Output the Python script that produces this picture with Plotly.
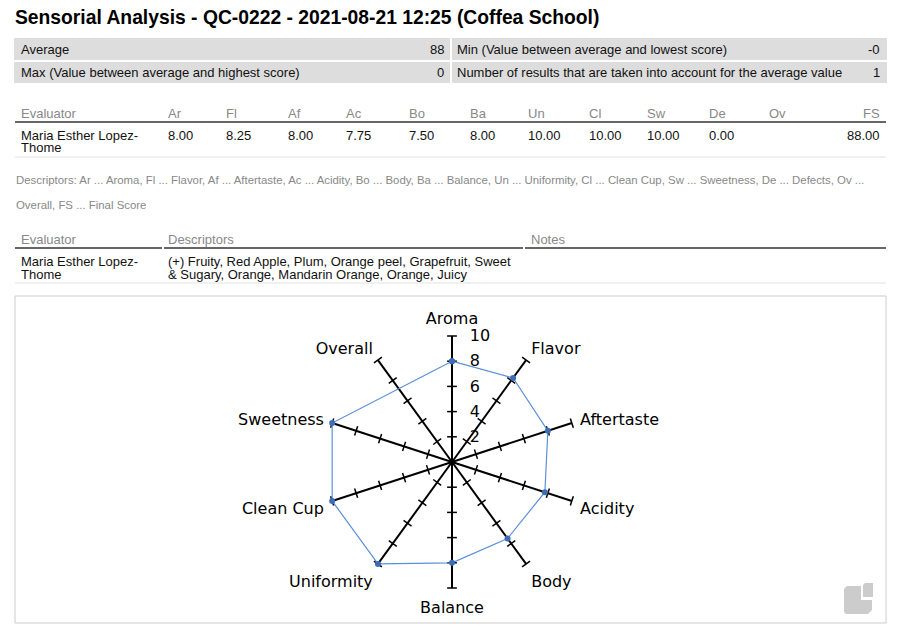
import plotly.graph_objects as go

W, H = 900, 628

# ---------------- data ----------------
title = "Sensorial Analysis - QC-0222 - 2021-08-21 12:25 (Coffea School)"
summary_left = [("Average", "88"), ("Max (Value between average and highest score)", "0")]
summary_right = [("Min (Value between average and lowest score)", "-0"),
                 ("Number of results that are taken into account for the average value", "1")]
col_codes = ["Ar", "Fl", "Af", "Ac", "Bo", "Ba", "Un", "Cl", "Sw", "De", "Ov"]
evaluator = ["Maria Esther Lopez-", "Thome"]
scores_txt = ["8.00", "8.25", "8.00", "7.75", "7.50", "8.00", "10.00", "10.00", "10.00", "0.00", ""]
final_score = "88.00"
legend_lines = ["Descriptors: Ar ... Aroma, Fl ... Flavor, Af ... Aftertaste, Ac ... Acidity, Bo ... Body, "
                "Ba ... Balance, Un ... Uniformity, Cl ... Clean Cup, Sw ... Sweetness, De ... Defects, Ov ...",
                "Overall, FS ... Final Score"]
descriptor_lines = ["(+) Fruity, Red Apple, Plum, Orange peel, Grapefruit, Sweet",
                    "& Sugary, Orange, Mandarin Orange, Orange, Juicy"]

categories = ["Aroma", "Flavor", "Aftertaste", "Acidity", "Body",
              "Balance", "Uniformity", "Clean Cup", "Sweetness", "Overall"]
values = [8.00, 8.25, 8.00, 7.75, 7.50, 8.00, 10.00, 10.00, 10.00, None]
radial_ticks = [2, 4, 6, 8, 10]

# ---------------- helpers ----------------
def X(x):
    return x / W

def Y(y):
    return 1 - y / H

TF = "Liberation Sans, Arial, sans-serif"
RF = "DejaVu Sans, sans-serif"

annotations = []
shapes = []

def txt(x, y, s, size=13, color="#111111", anchor="left", bold=False, family=TF):
    annotations.append(dict(
        x=X(x), y=Y(y), xref="paper", yref="paper", text=("<b>%s</b>" % s) if bold else s,
        showarrow=False, xanchor=anchor, yanchor="middle",
        font=dict(family=family, size=size, color=color), borderpad=0))

def rect(x0, y0, x1, y1, fill=None, line=None, lw=1):
    shapes.append(dict(type="rect", xref="paper", yref="paper",
                       x0=X(x0), x1=X(x1), y0=Y(y1), y1=Y(y0),
                       fillcolor=fill if fill else "rgba(0,0,0,0)",
                       line=dict(color=line if line else "rgba(0,0,0,0)", width=lw if line else 0),
                       layer="below"))

def hline(x0, x1, y, color, width):
    shapes.append(dict(type="line", xref="paper", yref="paper",
                       x0=X(x0), x1=X(x1), y0=Y(y), y1=Y(y),
                       line=dict(color=color, width=width)))

# ---------------- title ----------------
txt(14, 18, title, size=19.3, color="#000000", bold=True)

# ---------------- summary boxes ----------------
row_y = [(38, 60), (62, 83)]
for i, (lab, val) in enumerate(summary_left):
    y0, y1 = row_y[i]
    rect(14, y0, 450, y1, fill="#dddddd")
    txt(20, (y0 + y1) / 2, lab)
    txt(445, (y0 + y1) / 2, val, anchor="right")
for i, (lab, val) in enumerate(summary_right):
    y0, y1 = row_y[i]
    rect(452, y0, 887, y1, fill="#dddddd")
    txt(456, (y0 + y1) / 2, lab)
    txt(881, (y0 + y1) / 2, val, anchor="right")

# ---------------- score table ----------------
col_x = [167, 225, 287, 345, 408, 469, 527, 588, 646, 708, 768]
GREY = "#888888"
txt(20, 113, "Evaluator", color=GREY)
for cx, code in zip(col_x, col_codes):
    txt(cx, 113, code, color=GREY)
txt(881, 113, "FS", color=GREY, anchor="right")
hline(15, 886, 122, "#333333", 1.5)
txt(20, 135, evaluator[0])
txt(20, 148, evaluator[1])
for cx, s in zip(col_x, scores_txt):
    if s:
        txt(cx, 135, s)
txt(881, 135, final_score, anchor="right")
hline(15, 886, 157, "#e2e2e2", 1)

# ---------------- legend text ----------------
txt(15, 180, legend_lines[0], size=11.4, color=GREY)
txt(15, 205, legend_lines[1], size=11.4, color=GREY)

# ---------------- descriptor table ----------------
txt(20, 239, "Evaluator", color=GREY)
txt(167, 239, "Descriptors", color=GREY)
txt(530, 239, "Notes", color=GREY)
hline(15, 162, 248, "#333333", 1.5)
hline(164, 523, 248, "#333333", 1.5)
hline(525, 886, 248, "#333333", 1.5)
txt(20, 261, evaluator[0])
txt(20, 274, evaluator[1])
txt(167, 261, descriptor_lines[0])
txt(167, 274, descriptor_lines[1])
hline(15, 886, 283, "#e2e2e2", 1)

# ---------------- chart frame ----------------
rect(15, 296, 886, 623, line="#cccccc", lw=1)

# logo (decorative)
def P(x, y):
    return "%.5f,%.5f" % (X(x), Y(y))
shapes.append(dict(type="path", xref="paper", yref="paper",
                   path="M" + P(847, 586) + " L" + P(861, 586) + " L" + P(861, 600) + " L" + P(872, 600)
                        + " L" + P(872, 610) + " L" + P(868, 614) + " L" + P(846, 614)
                        + " L" + P(844, 612) + " L" + P(844, 589) + " Z",
                   fillcolor="#cccccc", line=dict(width=0)))
shapes.append(dict(type="path", xref="paper", yref="paper",
                   path="M" + P(865, 583) + " L" + P(873, 583) + " L" + P(873, 597)
                        + " L" + P(863, 597) + " L" + P(863, 585) + " Z",
                   fillcolor="#cccccc", line=dict(width=0)))

# ---------------- radar ----------------
fig = go.Figure()

tick_theta = [c for c in categories for _ in radial_ticks]
tick_r = [r for _ in categories for r in radial_ticks]
tick_angle = [i * 360.0 / len(categories) for i in range(len(categories)) for _ in radial_ticks]
fig.add_trace(go.Scatterpolar(
    r=tick_r, theta=tick_theta, mode="markers", hoverinfo="skip", showlegend=False,
    marker=dict(symbol="line-ew", size=7, angle=tick_angle,
                line=dict(color="#000000", width=1.5), color="#000000")))

fig.add_trace(go.Scatterpolar(
    r=values + [values[0]], theta=categories + [categories[0]],
    mode="lines+markers", connectgaps=True, showlegend=False,
    line=dict(color="#5B8FDB", width=1.2),
    marker=dict(color="#3D6DB8", size=6)))

cx, cy, rad = 452, 462, 126
fig.update_layout(
    width=W, height=H, margin=dict(l=0, r=0, t=0, b=0),
    paper_bgcolor="white", plot_bgcolor="white",
    annotations=annotations, shapes=shapes,
    polar=dict(
        domain=dict(x=[X(cx - rad), X(cx + rad)], y=[Y(cy + rad), Y(cy - rad)]),
        bgcolor="rgba(0,0,0,0)",
        angularaxis=dict(direction="clockwise", rotation=90, showline=False,
                         gridcolor="#000000", gridwidth=2,
                         ticks="outside", ticklen=5, tickcolor="rgba(0,0,0,0)",
                         tickfont=dict(family=RF, size=16, color="#000000")),
        radialaxis=dict(range=[0, 10], angle=90, tickangle=90, tickvals=radial_ticks,
                        showgrid=False, showline=False,
                        ticks="outside", ticklen=14, tickcolor="rgba(0,0,0,0)",
                        tickfont=dict(family=RF, size=16, color="#000000")),
    ),
)

fig.write_html("out.html", config={"displayModeBar": False},
               post_script="document.body.style.margin='0';document.body.style.padding='0';")
